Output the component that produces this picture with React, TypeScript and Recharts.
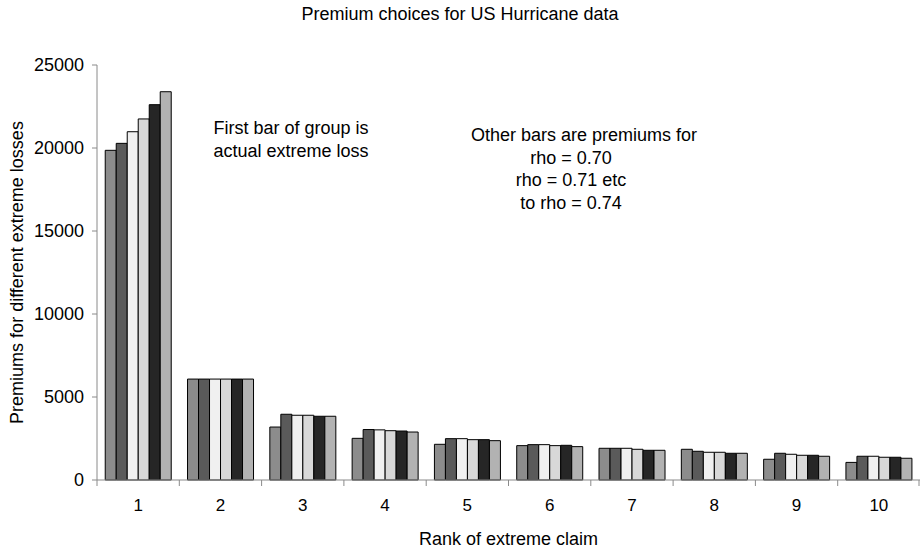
import React from "react";
import { BarChart, Bar, XAxis, YAxis } from "recharts";

const ranks = ["1", "2", "3", "4", "5", "6", "7", "8", "9", "10"];
const actualLoss = [19860, 6080, 3190, 2510, 2150, 2070, 1910, 1850, 1250, 1060];
const rho070 = [20280, 6080, 3960, 3040, 2490, 2130, 1910, 1730, 1610, 1430];
const rho071 = [20980, 6080, 3900, 3020, 2490, 2130, 1910, 1670, 1550, 1430];
const rho072 = [21750, 6080, 3900, 2970, 2430, 2070, 1850, 1670, 1490, 1370];
const rho073 = [22610, 6080, 3840, 2950, 2430, 2090, 1790, 1610, 1490, 1370];
const rho074 = [23390, 6080, 3840, 2890, 2370, 2010, 1790, 1610, 1430, 1310];
const yTicks = [0, 5000, 10000, 15000, 20000, 25000];

const seriesKeys = ["actual", "r70", "r71", "r72", "r73", "r74"];
const seriesFills = ["#8c8c8c", "#5a5a5a", "#f0f0f0", "#d8d8d8", "#262626", "#b2b2b2"];

const data = ranks.map((rank, i) => ({
  rank,
  actual: actualLoss[i],
  r70: rho070[i],
  r71: rho071[i],
  r72: rho072[i],
  r73: rho073[i],
  r74: rho074[i],
}));

const FONT = "'Liberation Sans', Arial, sans-serif";
const AXIS_GREY = "#8a8a8a";
const BAND = 823 / ranks.length;

const RankTick = (props: any) => {
  const { x, y, payload, index } = props;
  const left = x - BAND / 2;
  const right = x + BAND / 2;
  return (
    <g>
      <line x1={left} y1={y - 8} x2={left} y2={y - 2} stroke={AXIS_GREY} />
      {index === ranks.length - 1 && (
        <line x1={right - 1} y1={y - 8} x2={right - 1} y2={y - 2} stroke={AXIS_GREY} />
      )}
      <text x={x} y={y + 23} textAnchor="middle" fontSize={17} fill="#000" fontFamily={FONT}>
        {payload.value}
      </text>
    </g>
  );
};

const YTitle = (props: any) => {
  const { viewBox } = props;
  const cx = 17;
  const cy = viewBox.y + viewBox.height / 2;
  return (
    <text
      x={cx}
      y={cy}
      transform={`rotate(-90 ${cx} ${cy})`}
      textAnchor="middle"
      dominantBaseline="central"
      fontSize={18}
      fill="#000"
      fontFamily={FONT}
    >
      Premiums for different extreme losses
    </text>
  );
};

const textStyle: React.CSSProperties = {
  position: "absolute",
  fontFamily: FONT,
  fontSize: 18,
  color: "#000",
  textAlign: "center",
  lineHeight: "22.5px",
  whiteSpace: "nowrap",
};

export default function App() {
  return (
    <div style={{ position: "absolute", left: 0, top: 0, width: 920, height: 549, background: "#fff" }}>
      <BarChart
        width={920}
        height={549}
        data={data}
        margin={{ top: 65, right: 0, left: 0, bottom: 0 }}
        barCategoryGap="10%"
        barGap={0}
      >
        <XAxis
          dataKey="rank"
          height={69}
          tickLine={false}
          axisLine={{ stroke: AXIS_GREY }}
          tick={<RankTick />}
          interval={0}
          label={{
            value: "Rank of extreme claim",
            position: "insideBottom",
            offset: 4,
            fontSize: 18,
            fill: "#000",
            fontFamily: FONT,
          }}
        />
        <YAxis
          width={97}
          domain={[0, 25000]}
          ticks={yTicks}
          interval={0}
          axisLine={{ stroke: AXIS_GREY }}
          tickLine={{ stroke: AXIS_GREY }}
          tickSize={5}
          tickMargin={8}
          tick={{ fontSize: 18, fill: "#000", fontFamily: FONT }}
          label={<YTitle />}
        />
        {seriesKeys.map((key, i) => (
          <Bar
            key={key}
            dataKey={key}
            fill={seriesFills[i]}
            stroke="#000"
            strokeWidth={1}
            isAnimationActive={false}
          />
        ))}
      </BarChart>
      <div style={{ ...textStyle, left: 0, width: 920, top: 3 }}>Premium choices for US Hurricane data</div>
      <div style={{ ...textStyle, left: 191, width: 200, top: 117 }}>
        First bar of group is
        <br />
        actual extreme loss
      </div>
      <div style={{ ...textStyle, left: 471, width: 200, top: 124 }}>
        Other bars are premiums for
        <br />
        rho = 0.70
        <br />
        rho = 0.71 etc
        <br />
        to rho = 0.74
      </div>
    </div>
  );
}
